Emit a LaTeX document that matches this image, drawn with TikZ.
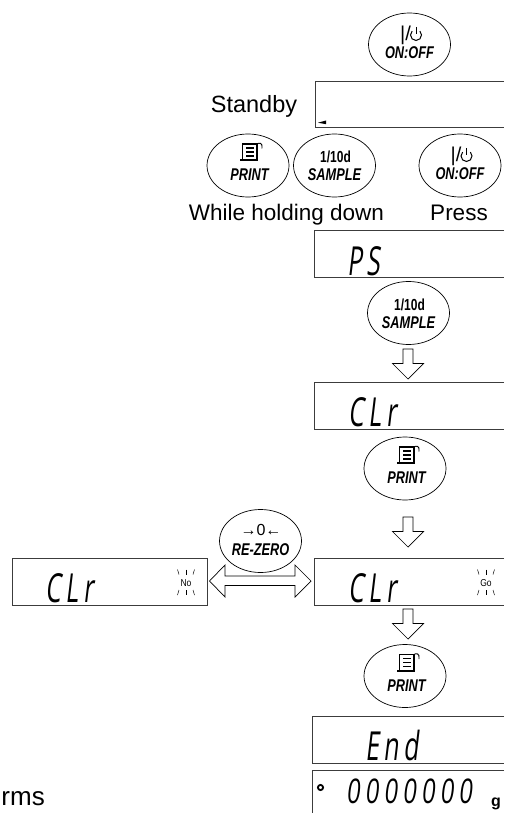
\documentclass[tikz,border=0pt]{standalone}
\usepackage{fontspec}
\usetikzlibrary{shapes.geometric}
\setmainfont{Liberation Sans}
\newfontfamily\keyfont[FakeStretch=0.75]{Liberation Sans}
\newfontfamily\lcdfont[FakeStretch=0.62,FakeSlant=0.12,LetterSpace=12]{Open Sans}
\newfontfamily\lcdzero[FakeStretch=0.7,FakeSlant=0.12,LetterSpace=15]{Open Sans}
\newfontfamily\lcdtiny[FakeStretch=0.85]{Liberation Sans}
\definecolor{edge}{HTML}{3C3C3C}
\newcommand{\blockdown}[2]{% x, top y
  \draw[black,line width=0.7pt,line join=miter] (#1-5,#2) -- (#1+5,#2) -- (#1+5,#2+14.5) -- (#1+15.5,#2+14.5) -- (#1,#2+30) -- (#1-15.5,#2+14.5) -- (#1-5,#2+14.5) -- cycle;}
\tikzset{
  x=1pt,y=-1pt,
  key/.style={draw=black,line width=0.7pt,shape=ellipse,minimum width=82pt,minimum height=63pt,inner sep=0pt},
  lcdbox/.style={draw=edge,line width=0.9pt},
  keylabel/.style={font=\keyfont\bfseries\itshape\fontsize{17}{17}\selectfont,anchor=base,inner sep=0pt},
  keytop/.style={font=\keyfont\bfseries\fontsize{16}{16}\selectfont,anchor=base,inner sep=0pt},
  caption/.style={font=\fontsize{22.5}{24}\selectfont,anchor=base,inner sep=0pt},
  lcd/.style={font=\lcdfont\fontsize{40}{40}\selectfont,anchor=base west,inner sep=0pt},
  flash/.style={font=\lcdtiny\fontsize{10}{10}\selectfont,anchor=center,inner sep=0pt},
  ray/.style={line width=0.5pt,black},
  printkey/.pic={
    \node[key] (-body) at (0,0) {};
    \fill (-8,-6.5) rectangle (10,-4.5);
    \draw[line width=1.1pt] (-5.7,-6) -- (-5.7,-21.5) -- (9,-21.5) -- (9,-6);
    \draw[line width=0.9pt] (9,-21.5) .. controls (11,-23) and (15,-23) .. (14,-17);
    \fill (-2,-18.2) rectangle (6,-16.6);
    \fill (-2,-14.2) rectangle (6,-12.6);
    \fill (-2,-10.2) rectangle (6,-8.6);
    \node[keylabel] (-cap) at (1.5,15) {PRINT};
  },
  samplekey/.pic={
    \node[key] (-body) at (0,0) {};
    \node[keytop] (-top) at (1,-3) {1/10d};
    \node[keylabel] (-cap) at (0,15) {SAMPLE};
  },
  onoffkey/.pic={
    \node[key] (-body) at (0,0) {};
    \node[font=\fontsize{20}{20}\selectfont,anchor=base west,inner sep=0pt] (-top) at (-9.5,-3.5) {|/};
    \draw[line width=1pt] (10.4,-13.4) arc[start angle=-45,end angle=225,radius=5.5,y=-1pt];
    \draw[line width=1pt] (6.5,-17.5) -- (6.5,-10.5);
    \node[keylabel] (-cap) at (0,14) {ON:OFF};
  },
  rezerokey/.pic={
    \node[key] (-body) at (0,0) {};
    \node[font=\fontsize{16}{16}\selectfont,anchor=base,inner sep=0pt] (-top) at (0.5,-5.5) {→0←};
    \node[keylabel] (-cap) at (0,14) {RE-ZERO};
  },
}
\begin{document}
\begin{tikzpicture}
\useasboundingbox (0,0) rectangle (504,813);
% keys
\pic (k1) at (409.5,44.5) {onoffkey};
\pic (k2) at (248,165.5) {printkey};
\pic (k3) at (334.5,165.5) {samplekey};
\pic (k4) at (460,165.5) {onoffkey};
\pic (k5) at (408.5,313) {samplekey};
\pic (k6) at (405,468.5) {printkey};
\pic (k7) at (260.5,541) {rezerokey};
\pic (k8) at (405,676) {printkey};
% captions
\node[caption,font=\fontsize{23.5}{24}\selectfont] (standby) at (254,113) {Standby};
\node[caption] (hold) at (286.5,220) {While holding down};
\node[caption] (press) at (459,220) {Press};
\node[caption,font=\fontsize{26}{26}\selectfont,anchor=base east] (rms) at (45,805) {rms};
% display boxes (open at the page edge)
\draw[lcdbox] (504,81) -- (315,81) -- (315,127) -- (504,127);
\fill (318,122.7) -- (326,120.5) -- (326,124.2) -- cycle;
\draw[lcdbox] (504,230) -- (314,230) -- (314,277) -- (504,277);
\node[lcd] (ps) at (347,275) {PS};
\draw[lcdbox] (504,382) -- (314,382) -- (314,429) -- (504,429);
\node[lcd] (clr1) at (348,426) {CLr};
\draw[lcdbox] (12,558) rectangle (207,605);
\node[lcd] (clr2) at (45,602) {CLr};
\draw[lcdbox] (504,558) -- (314,558) -- (314,605) -- (504,605);
\node[lcd] (clr3) at (348,602) {CLr};
\draw[lcdbox] (504,716) -- (312,716) -- (312,763) -- (504,763);
\node[lcd] (endt) at (365,760) {End};
\draw[lcdbox] (504,770) -- (312,770) -- (312,813);
\draw[line width=1.8pt] (320.5,787.5) circle[radius=2.6];
\node[lcd,font=\lcdzero\fontsize{34}{34}\selectfont] (zeros) at (346,803) {0000000};
\node[font=\bfseries\fontsize{16}{16}\selectfont,anchor=base,inner sep=0pt] (gunit) at (496,806) {g};
% flashing marks
\node[flash] (no) at (186,583) {No};
\node[flash] (go) at (486,583) {Go};
\foreach \c in {186,486}{
  \draw[ray] (\c-8.5,569.5) -- (\c-7,574.5);
  \draw[ray] (\c,569.5) -- (\c,574.5);
  \draw[ray] (\c+8.5,569.5) -- (\c+7,574.5);
  \draw[ray] (\c-7,590) -- (\c-8.5,595);
  \draw[ray] (\c,590) -- (\c,595);
  \draw[ray] (\c+7,590) -- (\c+8.5,595);
}
% block arrows
\blockdown{408}{349}
\blockdown{408}{517}
\blockdown{408}{609}
\draw[black,line width=0.7pt] (209.5,581) -- (225,565) -- (225,576) -- (295,576) -- (295,565) -- (311,581) -- (295,597) -- (295,585.5) -- (225,585.5) -- (225,597) -- cycle;
\end{tikzpicture}
\end{document}
